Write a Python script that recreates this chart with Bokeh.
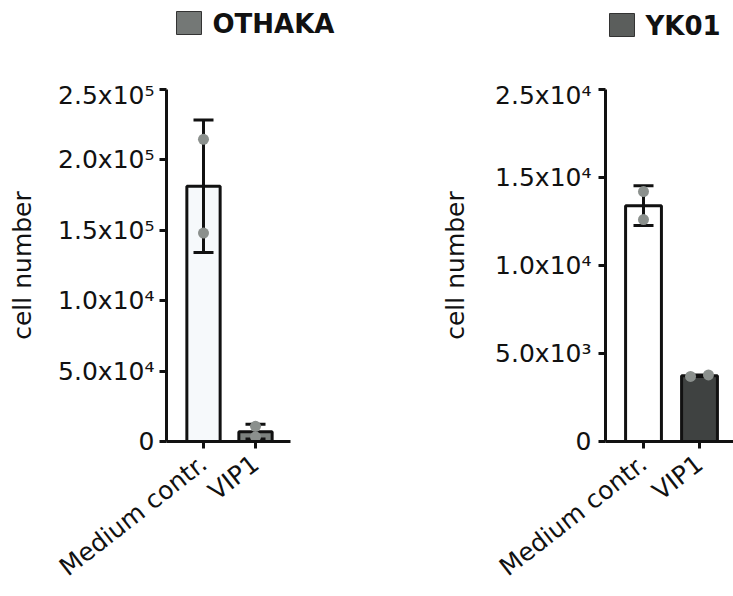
import math
from bokeh.plotting import figure
from bokeh.layouts import row, column
from bokeh.models import Range1d, FixedTicker
from bokeh.core.properties import value
from bokeh.embed import file_html
from bokeh.resources import INLINE

# ---------------- data ----------------
categories = ["Medium contr.", "VIP1"]

othaka_mean = [181300, 7000]
othaka_sd = [47000, 5300]
othaka_points_a = [214600, 10800]
othaka_points_b = [148000, 3300]
othaka_ticks = [0, 50000, 100000, 150000, 200000, 250000]
othaka_tick_labels = ["0", "5.0x10⁴", "1.0x10⁴", "1.5x10⁵", "2.0x10⁵", "2.5x10⁵"]

yk01_mean = [13400, 3740]
yk01_sd = [1130, 40]
yk01_points_a = [14200, 3700]
yk01_points_b = [12610, 3780]
yk01_ticks = [0, 5000, 10000, 15000, 20000]
yk01_tick_labels = ["0", "5.0x10³", "1.0x10⁴", "1.5x10⁴", "2.5x10⁴"]

FONT = "DejaVu Sans"
INK = "#111111"
DOT = "#8b908d"
LEG_H = 80


def legend_fig(title, legend_fill, width, sq_left, sq_top):
    # a key strip above the plot, in pixel units (y grows downward)
    f = figure(width=width, height=LEG_H, output_backend="svg",
               toolbar_location=None, x_range=Range1d(0, width),
               y_range=Range1d(LEG_H, 0), frame_align=False,
               x_axis_type=None, y_axis_type=None, min_border=0)
    f.outline_line_color = None
    f.xgrid.visible = False
    f.ygrid.visible = False
    f.quad(left=[sq_left], right=[sq_left + 25], top=[sq_top], bottom=[sq_top + 23],
           fill_color=legend_fill, line_color="#333333", line_width=1)
    f.text(x=[sq_left + 36], y=[sq_top + 12], text=[title],
           text_font=value(FONT), text_font_size="26px", text_font_style="bold",
           text_color=INK, text_baseline="middle", text_align="left")
    return f


def panel(means, sds, pts_a, pts_b, ticks, tick_labels, y_end,
          bar_fills, x_range, width, border_left, border_right,
          jitter, label_standoff, title_standoff):
    p = figure(width=width, height=596 - LEG_H, output_backend="svg",
               toolbar_location=None, x_range=x_range,
               y_range=Range1d(0, y_end), frame_align=False,
               min_border_left=border_left, min_border_right=border_right,
               min_border_top=89 - LEG_H, min_border_bottom=153)
    p.outline_line_color = None
    p.xgrid.visible = False
    p.ygrid.visible = False
    p.background_fill_color = "white"

    xs = [i + 1 for i in range(len(categories))]
    p.vbar(x=xs, top=means, width=0.64, bottom=0, fill_color=bar_fills,
           line_color=INK, line_width=3)
    upper = [m + s for m, s in zip(means, sds)]
    lower = [m - s for m, s in zip(means, sds)]
    p.segment(x0=xs, y0=lower, x1=xs, y1=upper, line_color=INK, line_width=3)
    p.scatter(x=xs, y=upper, marker="dash", size=20, line_color=INK, line_width=3)
    p.scatter(x=xs, y=lower, marker="dash", size=20, line_color=INK, line_width=3)
    p.scatter(x=[x - j for x, j in zip(xs, jitter)], y=pts_a, size=11,
              fill_color=DOT, line_color=None)
    p.scatter(x=[x + j for x, j in zip(xs, jitter)], y=pts_b, size=11,
              fill_color=DOT, line_color=None)

    for ax in (p.xaxis[0], p.yaxis[0]):
        ax.axis_line_width = 3
        ax.axis_line_color = INK
        ax.major_tick_line_width = 3
        ax.major_tick_line_color = INK
        ax.major_tick_out = 7
        ax.major_tick_in = 0
        ax.minor_tick_line_color = None
        ax.major_label_text_font = FONT
        ax.major_label_text_font_size = "25px"
        ax.major_label_text_color = INK

    p.yaxis.ticker = FixedTicker(ticks=ticks)
    p.yaxis.major_label_overrides = {t: l for t, l in zip(ticks, tick_labels)}
    p.yaxis.major_label_standoff = label_standoff
    p.yaxis.axis_label = "cell number"
    p.yaxis.axis_label_text_font = FONT
    p.yaxis.axis_label_text_font_size = "25px"
    p.yaxis.axis_label_text_font_style = "normal"
    p.yaxis.axis_label_text_color = INK
    p.yaxis.axis_label_standoff = title_standoff

    p.xaxis.ticker = FixedTicker(ticks=xs)
    p.xaxis.major_label_overrides = {x: c for x, c in zip(xs, categories)}
    p.xaxis.major_label_orientation = math.radians(38)
    p.xaxis.major_label_standoff = 12
    return p


l1 = legend_fig("OTHAKA", "#747876", 366, 176, 11)
p1 = panel(othaka_mean, othaka_sd, othaka_points_a, othaka_points_b,
           othaka_ticks, othaka_tick_labels, 250000,
           ["#f6f9fb", "#7c817e"],
           Range1d(0.2885, 2.673), 366, 166, 76, [0, 0], 5, 18)
l2 = legend_fig("YK01", "#5b5e5c", 367, 609 - 366, 13)
p2 = panel(yk01_mean, yk01_sd, yk01_points_a, yk01_points_b,
           yk01_ticks, yk01_tick_labels, 20000,
           ["#ffffff", "#3f4241"],
           Range1d(0.3214, 2.607), 367, 239, 0, [0, 0.16], 7, 22)

layout = row(column(l1, p1), column(l2, p2))
open("out.html", "w").write(file_html(layout, INLINE))
